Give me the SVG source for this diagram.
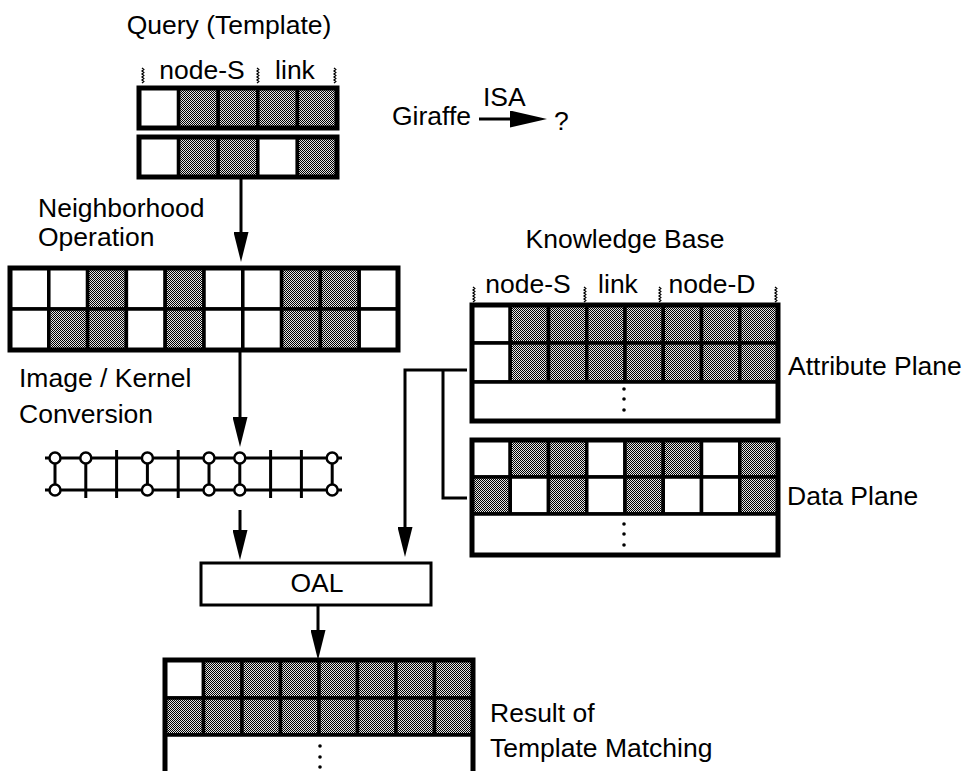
<svg xmlns="http://www.w3.org/2000/svg" xmlns:xlink="http://www.w3.org/1999/xlink" width="965" height="771" viewBox="0 0 965 771">
<style>
text{font-family:"Liberation Sans",Arial,Helvetica,sans-serif;font-size:26.5px;fill:#000}
.w{fill:#fff;stroke:#000;stroke-width:3.5}
.s{fill:url(#dot);stroke:#000;stroke-width:3.5}
.ob{fill:none;stroke:#000;stroke-width:5}
.ln{fill:none;stroke:#000;stroke-width:3}
.arr{fill:none;stroke:#000;stroke-width:3;marker-end:url(#ah)}
.sq{fill:none;stroke:#000;stroke-width:1.3}
.nd{fill:#fff;stroke:#000;stroke-width:2.5}
.dt{fill:#000}
</style>
<defs>
<pattern id="dot" width="2" height="2" patternUnits="userSpaceOnUse">
<rect width="2" height="2" fill="#e4e4e4"/>
<rect width="1" height="1" fill="#000"/>
<rect x="1" y="1" width="1" height="1" fill="#000"/>
</pattern>
<marker id="ah" markerUnits="userSpaceOnUse" viewBox="0 0 30 15" markerWidth="30" markerHeight="15" refX="22" refY="7.5" orient="auto">
<path d="M0,0 L30,7.5 L0,15 z" fill="#000"/>
</marker>
<marker id="ahb" markerUnits="userSpaceOnUse" viewBox="0 0 37 17" markerWidth="37" markerHeight="17" refX="28" refY="8.5" orient="auto">
<path d="M0,0 L37,8.5 L0,17 z" fill="#000"/>
</marker>
<path id="sq" class="sq" d="M0,0 l1.8,1.5 l-1.8,1.5 l1.8,1.5 l-1.8,1.5 l1.8,1.5 l-1.8,1.5 l1.8,1.5 l-1.8,1.5 l1.8,1.5 l-1.8,1.5"/>
</defs>
<rect width="965" height="771" fill="#fff"/>

<g id="query">
<text x="229" y="34" text-anchor="middle">Query (Template)</text>
<use xlink:href="#sq" x="142" y="68"/>
<use xlink:href="#sq" x="257" y="68"/>
<use xlink:href="#sq" x="334" y="68"/>
<text x="202" y="79" text-anchor="middle">node-S</text>
<text x="295" y="79" text-anchor="middle">link</text>
<rect class="w" x="139" y="88" width="39.6" height="40"/>
<rect class="s" x="178.6" y="88" width="39.6" height="40"/>
<rect class="s" x="218.2" y="88" width="39.6" height="40"/>
<rect class="s" x="257.8" y="88" width="39.6" height="40"/>
<rect class="s" x="297.4" y="88" width="39.6" height="40"/>
<rect class="ob" x="139" y="88" width="198" height="40"/>
<rect class="w" x="139" y="137" width="39.6" height="40"/>
<rect class="s" x="178.6" y="137" width="39.6" height="40"/>
<rect class="s" x="218.2" y="137" width="39.6" height="40"/>
<rect class="w" x="257.8" y="137" width="39.6" height="40"/>
<rect class="s" x="297.4" y="137" width="39.6" height="40"/>
<rect class="ob" x="139" y="137" width="198" height="40"/>
</g>

<g id="giraffe">
<text x="392" y="125">Giraffe</text>
<text x="483" y="106">ISA</text>
<text x="554" y="130" font-size="24">?</text>
</g>

<g id="neighborhood">
<text x="38" y="217">Neighborhood</text>
<text x="38" y="246">Operation</text>
<rect class="w" x="10" y="268" width="38.8" height="41"/>
<rect class="w" x="48.8" y="268" width="38.8" height="41"/>
<rect class="s" x="87.6" y="268" width="38.8" height="41"/>
<rect class="w" x="126.4" y="268" width="38.8" height="41"/>
<rect class="s" x="165.2" y="268" width="38.8" height="41"/>
<rect class="w" x="204" y="268" width="38.8" height="41"/>
<rect class="w" x="242.8" y="268" width="38.8" height="41"/>
<rect class="s" x="281.6" y="268" width="38.8" height="41"/>
<rect class="s" x="320.4" y="268" width="38.8" height="41"/>
<rect class="w" x="359.2" y="268" width="38.8" height="41"/>
<rect class="w" x="10" y="309" width="38.8" height="41"/>
<rect class="s" x="48.8" y="309" width="38.8" height="41"/>
<rect class="s" x="87.6" y="309" width="38.8" height="41"/>
<rect class="w" x="126.4" y="309" width="38.8" height="41"/>
<rect class="s" x="165.2" y="309" width="38.8" height="41"/>
<rect class="w" x="204" y="309" width="38.8" height="41"/>
<rect class="w" x="242.8" y="309" width="38.8" height="41"/>
<rect class="s" x="281.6" y="309" width="38.8" height="41"/>
<rect class="s" x="320.4" y="309" width="38.8" height="41"/>
<rect class="w" x="359.2" y="309" width="38.8" height="41"/>
<rect class="ob" x="10" y="268" width="388" height="82"/>
</g>

<g id="kernel">
<text x="19" y="387">Image / Kernel</text>
<text x="19" y="423">Conversion</text>
<path class="ln" d="M45,458 H342 M45,490 H342"/>
<path class="ln" d="M55,458 V490 M85.8,458 V498 M116.6,450 V498 M147.4,458 V490 M178.2,450 V498 M209,458 V490 M239.8,458 V490 M270.6,450 V498 M301.4,450 V498 M332.2,458 V490"/>
<circle class="nd" cx="55" cy="458" r="5.5"/>
<circle class="nd" cx="85.8" cy="458" r="5.5"/>
<circle class="nd" cx="147.4" cy="458" r="5.5"/>
<circle class="nd" cx="209" cy="458" r="5.5"/>
<circle class="nd" cx="239.8" cy="458" r="5.5"/>
<circle class="nd" cx="332.2" cy="458" r="5.5"/>
<circle class="nd" cx="55" cy="490" r="5.5"/>
<circle class="nd" cx="147.4" cy="490" r="5.5"/>
<circle class="nd" cx="209" cy="490" r="5.5"/>
<circle class="nd" cx="239.8" cy="490" r="5.5"/>
<circle class="nd" cx="332.2" cy="490" r="5.5"/>
</g>

<g id="knowledge-base">
<text x="625" y="248" text-anchor="middle">Knowledge Base</text>
<use xlink:href="#sq" x="473" y="287"/>
<use xlink:href="#sq" x="584" y="287"/>
<use xlink:href="#sq" x="659" y="287"/>
<use xlink:href="#sq" x="775" y="287"/>
<text x="528" y="293" text-anchor="middle">node-S</text>
<text x="618" y="293" text-anchor="middle">link</text>
<text x="712" y="293" text-anchor="middle">node-D</text>
</g>

<g id="attribute-plane">
<rect class="w" x="472" y="305" width="38.25" height="38"/>
<rect class="s" x="510.25" y="305" width="38.25" height="38"/>
<rect class="s" x="548.5" y="305" width="38.25" height="38"/>
<rect class="s" x="586.75" y="305" width="38.25" height="38"/>
<rect class="s" x="625" y="305" width="38.25" height="38"/>
<rect class="s" x="663.25" y="305" width="38.25" height="38"/>
<rect class="s" x="701.5" y="305" width="38.25" height="38"/>
<rect class="s" x="739.75" y="305" width="38.25" height="38"/>
<rect class="w" x="472" y="343" width="38.25" height="39"/>
<rect class="s" x="510.25" y="343" width="38.25" height="39"/>
<rect class="s" x="548.5" y="343" width="38.25" height="39"/>
<rect class="s" x="586.75" y="343" width="38.25" height="39"/>
<rect class="s" x="625" y="343" width="38.25" height="39"/>
<rect class="s" x="663.25" y="343" width="38.25" height="39"/>
<rect class="s" x="701.5" y="343" width="38.25" height="39"/>
<rect class="s" x="739.75" y="343" width="38.25" height="39"/>
<rect class="w" x="472" y="382" width="306" height="39"/>
<rect class="ob" x="472" y="305" width="306" height="116"/>
<circle class="dt" cx="624" cy="389" r="1.8"/>
<circle class="dt" cx="624" cy="399" r="1.8"/>
<circle class="dt" cx="624" cy="410" r="1.8"/>
<text x="788" y="375">Attribute Plane</text>
</g>

<g id="data-plane">
<rect class="w" x="472" y="440" width="38.25" height="37"/>
<rect class="s" x="510.25" y="440" width="38.25" height="37"/>
<rect class="s" x="548.5" y="440" width="38.25" height="37"/>
<rect class="w" x="586.75" y="440" width="38.25" height="37"/>
<rect class="s" x="625" y="440" width="38.25" height="37"/>
<rect class="s" x="663.25" y="440" width="38.25" height="37"/>
<rect class="w" x="701.5" y="440" width="38.25" height="37"/>
<rect class="s" x="739.75" y="440" width="38.25" height="37"/>
<rect class="s" x="472" y="477" width="38.25" height="37"/>
<rect class="w" x="510.25" y="477" width="38.25" height="37"/>
<rect class="s" x="548.5" y="477" width="38.25" height="37"/>
<rect class="w" x="586.75" y="477" width="38.25" height="37"/>
<rect class="s" x="625" y="477" width="38.25" height="37"/>
<rect class="w" x="663.25" y="477" width="38.25" height="37"/>
<rect class="w" x="701.5" y="477" width="38.25" height="37"/>
<rect class="s" x="739.75" y="477" width="38.25" height="37"/>
<rect class="w" x="472" y="514" width="306" height="41"/>
<rect class="ob" x="472" y="440" width="306" height="115"/>
<circle class="dt" cx="624" cy="524" r="1.8"/>
<circle class="dt" cx="624" cy="534" r="1.8"/>
<circle class="dt" cx="624" cy="545" r="1.8"/>
<text x="787" y="505">Data Plane</text>
</g>

<g id="oal">
<rect x="201" y="563" width="230" height="42" fill="#fff" stroke="#000" stroke-width="3"/>
<text x="317" y="592" text-anchor="middle" font-size="25">OAL</text>
</g>

<g id="result">
<rect class="w" x="165" y="660" width="38.5" height="38"/>
<rect class="s" x="203.5" y="660" width="38.5" height="38"/>
<rect class="s" x="242" y="660" width="38.5" height="38"/>
<rect class="s" x="280.5" y="660" width="38.5" height="38"/>
<rect class="s" x="319" y="660" width="38.5" height="38"/>
<rect class="s" x="357.5" y="660" width="38.5" height="38"/>
<rect class="s" x="396" y="660" width="38.5" height="38"/>
<rect class="s" x="434.5" y="660" width="38.5" height="38"/>
<rect class="s" x="165" y="698" width="38.5" height="37"/>
<rect class="s" x="203.5" y="698" width="38.5" height="37"/>
<rect class="s" x="242" y="698" width="38.5" height="37"/>
<rect class="s" x="280.5" y="698" width="38.5" height="37"/>
<rect class="s" x="319" y="698" width="38.5" height="37"/>
<rect class="s" x="357.5" y="698" width="38.5" height="37"/>
<rect class="s" x="396" y="698" width="38.5" height="37"/>
<rect class="s" x="434.5" y="698" width="38.5" height="37"/>
<rect class="w" x="165" y="735" width="308" height="55"/>
<rect class="ob" x="165" y="660" width="308" height="130"/>
<circle class="dt" cx="320" cy="746" r="1.8"/>
<circle class="dt" cx="320" cy="757" r="1.8"/>
<circle class="dt" cx="320" cy="767" r="1.8"/>
<text x="490" y="722">Result of</text>
<text x="490" y="757">Template Matching</text>
</g>

<g id="connectors">
<path fill="none" stroke="#000" stroke-width="3" marker-end="url(#ahb)" d="M479,119 H538"/>
<path class="arr" d="M241,179 V254"/>
<path class="arr" d="M240,352 V439"/>
<path class="arr" d="M240,510 V552"/>
<path class="arr" d="M467,370 H405 V549"/>
<path class="ln" d="M443,370 V498 H467"/>
<path class="arr" d="M318,605 V652"/>
</g>
</svg>
